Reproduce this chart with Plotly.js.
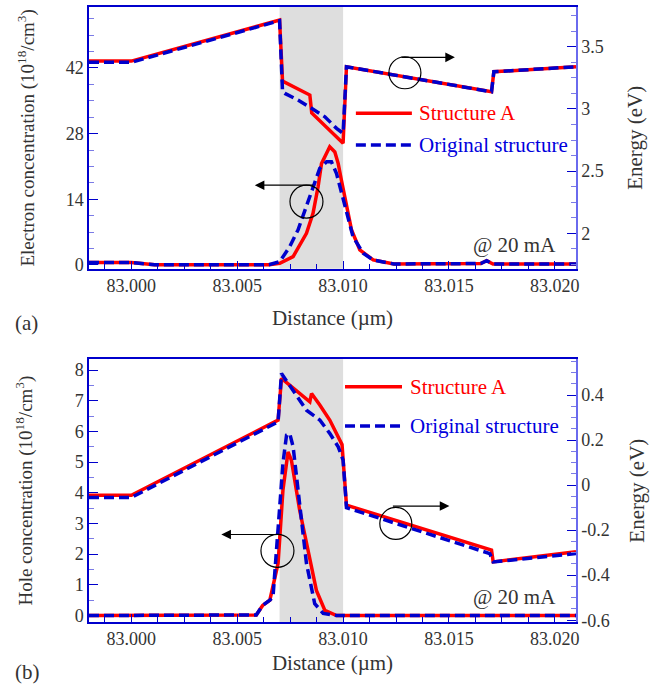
<!DOCTYPE html>
<html><head><meta charset="utf-8">
<script src="https://cdn.plot.ly/plotly-3.0.1.min.js"></script>
<style>html,body{margin:0;padding:0;background:#fff}
#chart text{font-family:'Liberation Serif' !important}</style>
</head><body>
<div id="chart" style="width:657px;height:685px"></div>
<script>
// ---------- Data (panel a) ----------
const energyA_top_x = [82.998, 83.000, 83.007, 83.00714, 83.00843, 83.00852, 83.0100, 83.01016, 83.01701, 83.01712, 83.021];
const energyA_top_y = [3.385, 3.385, 3.715, 3.224, 3.112, 2.967, 2.724, 3.339, 3.138, 3.299, 3.339];
const energyO_top_x = [82.998, 83.000, 83.007, 83.00714, 83.00725, 83.00787, 83.00851, 83.00914, 83.00969, 83.01000, 83.01016, 83.01701, 83.01712, 83.021];
const energyO_top_y = [3.375, 3.375, 3.710, 3.138, 3.125, 3.071, 3.005, 2.937, 2.844, 2.804, 3.339, 3.138, 3.299, 3.339];

const elecA_x = [82.998, 83.000, 83.0011, 83.0065, 83.00701, 83.00764, 83.00827, 83.00858, 83.00882, 83.00898, 83.00922, 83.00937, 83.00961, 83.00977, 83.00992, 83.01016, 83.0104, 83.01079, 83.01142, 83.0124, 83.0165, 83.01678, 83.01708, 83.021];
const elecA_y = [0.5, 0.5, 0.05, 0.05, 0.36, 1.77, 6.74, 11.0, 16.7, 21.6, 23.8, 25.2, 24.1, 21.6, 18.1, 12.4, 7.45, 3.19, 1.06, 0.2, 0.3, 0.9, 0.2, 0.2];
const elecO_x = [82.998, 83.000, 83.0011, 83.0065, 83.00701, 83.00748, 83.00787, 83.00827, 83.00858, 83.0089, 83.00922, 83.00945, 83.00969, 83.00992, 83.01016, 83.01047, 83.01095, 83.01142, 83.0124, 83.0165, 83.01678, 83.01708, 83.021];
const elecO_y = [0.5, 0.5, 0.05, 0.05, 0.7, 3.9, 7.45, 12.4, 16.7, 20.6, 22.0, 22.0, 19.5, 15.3, 11.0, 6.0, 2.5, 1.06, 0.2, 0.3, 0.9, 0.2, 0.2];

// ---------- Data (panel b) ----------
const energyA_bot_x = [82.998, 83.000, 83.00693, 83.00709, 83.00843, 83.00851, 83.0089, 83.00937, 83.00995, 83.01016, 83.01701, 83.01709, 83.021];
const energyA_bot_y = [-0.045, -0.045, 0.289, 0.474, 0.370, 0.407, 0.356, 0.289, 0.180, -0.089, -0.289, -0.341, -0.296];
const energyO_bot_x = [82.998, 83.000, 83.00693, 83.00709, 83.00827, 83.0089, 83.00937, 83.00977, 83.0100, 83.01016, 83.01693, 83.01709, 83.021];
const energyO_bot_y = [-0.055, -0.055, 0.281, 0.496, 0.333, 0.289, 0.230, 0.170, 0.111, -0.100, -0.304, -0.341, -0.304];

const holeA_x = [82.998, 83.0059, 83.0062, 83.00654, 83.00693, 83.00716, 83.0074, 83.00756, 83.00795, 83.00843, 83.00874, 83.00914, 83.00969, 83.021];
const holeA_y = [0, 0.02, 0.33, 0.5, 1.70, 4.09, 5.33, 5.06, 3.43, 1.91, 0.82, 0.17, 0.0, 0.0];
const holeO_x = [82.998, 83.0059, 83.0062, 83.00654, 83.00669, 83.00716, 83.00733, 83.00748, 83.00764, 83.00803, 83.00827, 83.00866, 83.00906, 83.00969, 83.021];
const holeO_y = [0, 0.02, 0.33, 0.5, 0.61, 4.96, 5.88, 5.93, 5.50, 3.21, 1.70, 0.39, 0.07, 0, 0];

// ---------- Ticks ----------
const elecTicks = [0, 14, 28, 42];
const energyTopTicks = [2, 2.5, 3, 3.5];
const energyTopLabels = ['2', '2.5', '3', '3.5'];
const holeTicks = [0, 1, 2, 3, 4, 5, 6, 7, 8];
const energyBotTicks = [-0.6, -0.4, -0.2, 0, 0.2, 0.4];
const energyBotLabels = ['-0.6', '-0.4', '-0.2', '0', '0.2', '0.4'];
const activeRegion = [83.007, 83.010];

const RED = '#ff0000', BLUE = '#0000cc';
const lineA = {color: RED, width: 3.5};
const lineO = {color: BLUE, width: 3.5, dash: '10px,5px'};

const traces = [
  {x: elecA_x, y: elecA_y, xaxis: 'x', yaxis: 'y', mode: 'lines', line: lineA, name: 'Structure A'},
  {x: elecO_x, y: elecO_y, xaxis: 'x', yaxis: 'y', mode: 'lines', line: lineO, name: 'Original structure'},
  {x: energyA_top_x, y: energyA_top_y, xaxis: 'x', yaxis: 'y2', mode: 'lines', line: lineA, name: 'Structure A'},
  {x: energyO_top_x, y: energyO_top_y, xaxis: 'x', yaxis: 'y2', mode: 'lines', line: lineO, name: 'Original structure'},
  {x: holeA_x, y: holeA_y, xaxis: 'x2', yaxis: 'y3', mode: 'lines', line: lineA, name: 'Structure A'},
  {x: holeO_x, y: holeO_y, xaxis: 'x2', yaxis: 'y3', mode: 'lines', line: lineO, name: 'Original structure'},
  {x: energyA_bot_x, y: energyA_bot_y, xaxis: 'x2', yaxis: 'y4', mode: 'lines', line: lineA, name: 'Structure A'},
  {x: energyO_bot_x, y: energyO_bot_y, xaxis: 'x2', yaxis: 'y4', mode: 'lines', line: lineO, name: 'Original structure'}
];

const FONT = 'Liberation Serif';
const TXT = '#333333';
const AXC = '#0000cc', AXC2 = '#6a6aee', MINC = '#7b7be6';

function xAxis(anchor, standoff) {
  return {
    anchor: anchor, domain: [0, 1], range: [82.998, 83.021],
    tick0: 83.000, dtick: 0.005, tickformat: '.3f',
    ticks: 'inside', ticklen: 8, tickwidth: 1.3, tickcolor: AXC,
    minor: {dtick: 0.00125, tick0: 83.000, ticks: 'inside', ticklen: 5, tickcolor: AXC, tickwidth: 1},
    showline: true, linecolor: AXC, linewidth: 1.5, mirror: true,
    showgrid: false, zeroline: false,
    tickfont: {family: FONT, size: 18, color: TXT},
    title: {text: 'Distance (\u00B5m)', font: {family: FONT, size: 21, color: TXT}, standoff: standoff},
    automargin: false
  };
}
function yLeft(domain, range, ticks, minorD, title, anchor, standoff) {
  return {
    domain: domain, range: range, anchor: anchor,
    tickmode: 'array', tickvals: ticks,
    ticks: 'inside', ticklen: 9, tickwidth: 1.3, tickcolor: AXC,
    minor: {dtick: minorD, tick0: 0, ticks: 'inside', ticklen: 5, tickcolor: MINC, tickwidth: 1.3},
    showline: true, linecolor: AXC, linewidth: 1.5,
    showgrid: false, zeroline: false,
    tickfont: {family: FONT, size: 18, color: TXT},
    title: {text: title, font: {family: FONT, size: 19, color: TXT}, standoff: standoff},
    automargin: false
  };
}
function yRight(over, anchor, range, ticks, labels, minorD, tick0, standoff) {
  return {
    overlaying: over, anchor: anchor, side: 'right', range: range,
    tickmode: 'array', tickvals: ticks, ticktext: labels,
    ticks: 'inside', ticklen: 9, tickwidth: 1.3, tickcolor: AXC,
    minor: {dtick: minorD, tick0: tick0, ticks: 'inside', ticklen: 5, tickcolor: MINC, tickwidth: 1.3},
    showline: true, linecolor: AXC2, linewidth: 1.5,
    showgrid: false, zeroline: false,
    tickfont: {family: FONT, size: 18, color: TXT},
    title: {text: 'Energy (eV)', font: {family: FONT, size: 21, color: TXT}, standoff: standoff},
    automargin: false
  };
}

const topDom = [0.5745, 1], botDom = [0, 0.4272];

function circle(xr, yr, x, y, r) {
  return {type: 'circle', xref: xr, yref: yr, xsizemode: 'pixel', ysizemode: 'pixel',
    xanchor: x, yanchor: y, x0: -r, x1: r, y0: -r, y1: r,
    line: {color: '#000', width: 1.2}, fillcolor: 'rgba(0,0,0,0)', layer: 'above'};
}
function legLine(xr, yr, x0, x1, y, line) {
  return {type: 'line', xref: xr, yref: yr, x0: x0, x1: x1, y0: y, y1: y,
    line: Object.assign({}, line), layer: 'above'};
}
function arrow(xr, yr, x, y, ax) {
  return {xref: xr, yref: yr, x: x, y: y, ax: ax, ay: 0, text: '', showarrow: true,
    arrowhead: 2, arrowsize: 1.6, arrowwidth: 1.2, arrowcolor: '#000'};
}
function legText(xr, yr, x, y, txt, color) {
  return {xref: xr, yref: yr, x: x, y: y, xanchor: 'left', yanchor: 'middle', text: txt,
    showarrow: false, font: {family: FONT, size: 21, color: color}};
}

const layout = {
  width: 657, height: 685,
  margin: {l: 89, r: 81, t: 7, b: 63},
  paper_bgcolor: '#fff', plot_bgcolor: '#fff',
  showlegend: false,
  xaxis: xAxis('y', 15),
  xaxis2: xAxis('y3', 7),
  yaxis: yLeft(topDom, [-0.8, 55], elecTicks, 3.5, 'Electron concentration (10<sup>18</sup>/cm<sup>3</sup>)', 'x', 26),
  yaxis2: yRight('y', 'x', [1.715, 3.82], energyTopTicks, energyTopLabels, 0.125, 2, 24),
  yaxis3: yLeft(botDom, [-0.21, 8.35], holeTicks, 0.5, 'Hole concentration (10<sup>18</sup>/cm<sup>3</sup>)', 'x2', 37),
  yaxis4: yRight('y3', 'x2', [-0.608, 0.559], energyBotTicks, energyBotLabels, 0.05, 0, 20),
  shapes: [
    {type: 'rect', xref: 'x', yref: 'y domain', x0: activeRegion[0], x1: activeRegion[1], y0: 0, y1: 1,
      fillcolor: '#dedede', line: {width: 0}, layer: 'below'},
    {type: 'rect', xref: 'x2', yref: 'y3 domain', x0: activeRegion[0], x1: activeRegion[1], y0: 0, y1: 1,
      fillcolor: '#dedede', line: {width: 0}, layer: 'below'},
    circle('x', 'y', 83.00827, 13.5, 16.5),
    circle('x', 'y2', 83.01292, 3.291, 16),
    circle('x2', 'y3', 83.0069, 2.11, 16.5),
    circle('x2', 'y4', 83.01249, -0.170, 16),
    legLine('x domain', 'y domain', 0.548, 0.663, 0.594, lineA),
    legLine('x domain', 'y domain', 0.548, 0.663, 0.4727, lineO),
    legLine('x2 domain', 'y3 domain', 0.5257, 0.6427, 0.8956, lineA),
    legLine('x2 domain', 'y3 domain', 0.5257, 0.6427, 0.7458, lineO)
  ],
  annotations: [
    arrow('x', 'y', 83.00583, 17.0, 60),
    arrow('x', 'y2', 83.01528, 3.415, -55),
    arrow('x2', 'y3', 83.00425, 2.64, 58),
    arrow('x2', 'y4', 83.01502, -0.093, -58),
    legText('x domain', 'y domain', 0.6735, 0.594, 'Structure A', RED),
    legText('x domain', 'y domain', 0.6735, 0.4727, 'Original structure', '#0000dd'),
    legText('x2 domain', 'y3 domain', 0.6544, 0.8956, 'Structure A', RED),
    legText('x2 domain', 'y3 domain', 0.6544, 0.7458, 'Original structure', '#0000dd'),
    {xref: 'x domain', yref: 'y domain', x: 0.963, y: 0.09, xanchor: 'right', yanchor: 'middle',
      text: '@ 20 mA', showarrow: false, font: {family: FONT, size: 21, color: TXT}},
    {xref: 'x2 domain', yref: 'y3 domain', x: 0.963, y: 0.094, xanchor: 'right', yanchor: 'middle',
      text: '@ 20 mA', showarrow: false, font: {family: FONT, size: 21, color: TXT}},
    {xref: 'paper', yref: 'paper', x: -0.156, y: 0.486, xanchor: 'left', yanchor: 'middle',
      text: '(a)', showarrow: false, font: {family: FONT, size: 21, color: TXT}},
    {xref: 'paper', yref: 'paper', x: -0.156, y: -0.0818, xanchor: 'left', yanchor: 'middle',
      text: '(b)', showarrow: false, font: {family: FONT, size: 21, color: TXT}}
  ]
};

Plotly.newPlot('chart', traces, layout, {displayModeBar: false});
</script></body></html>
